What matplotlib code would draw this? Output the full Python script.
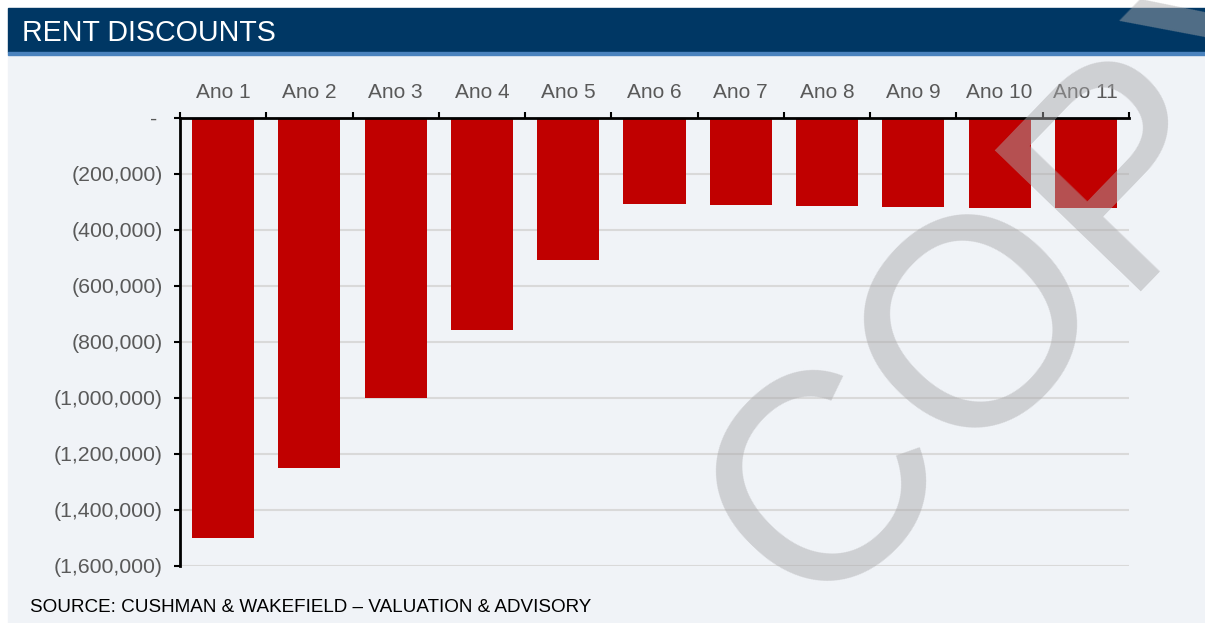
import numpy as np
import matplotlib.pyplot as plt
from matplotlib.patches import Rectangle
from matplotlib.ticker import FuncFormatter, FixedLocator

plt.rcParams['font.family'] = ['Liberation Sans', 'DejaVu Sans']

# rent discounts per lease year
years = ['Ano 1', 'Ano 2', 'Ano 3', 'Ano 4', 'Ano 5', 'Ano 6',
         'Ano 7', 'Ano 8', 'Ano 9', 'Ano 10', 'Ano 11']
discounts = [-1500000, -1250000, -1000000, -758000, -509000, -309000,
             -312000, -315000, -318000, -321000, -324000]
y_ticks = [0, -200000, -400000, -600000, -800000, -1000000,
           -1200000, -1400000, -1600000]

W, H = 1205, 623
fig = plt.figure(figsize=(W / 100, H / 100), dpi=100, facecolor='white')

def px(x, y):
    # pixel position (top-left origin) -> figure fraction
    return x / W, 1 - y / H

# page background, header bar and its thin lower stripe
fig.patches.append(Rectangle(px(8, 623), (W - 8) / W, (623 - 55) / H,
                             transform=fig.transFigure, color='#f0f3f7', zorder=-10))
fig.patches.append(Rectangle(px(8, 52), (W - 8) / W, 44 / H,
                             transform=fig.transFigure, color='#003764', zorder=-9))
fig.patches.append(Rectangle(px(8, 55), (W - 8) / W, 3 / H,
                             transform=fig.transFigure, color='#4a82bd', zorder=-9))
fig.text(*px(22, 33), 'RENT DISCOUNTS', color='white', fontsize=20.6,
         ha='left', va='center')

left, right, top, bottom = 180, 1129, 117.7, 565.7
ax = fig.add_axes([left / W, 1 - bottom / H, (right - left) / W, (bottom - top) / H])
ax.set_facecolor('none')

x = np.arange(len(years))
ax.bar(x, discounts, width=0.72, color='#c00000', zorder=3)

ax.set_xlim(-0.5, len(years) - 0.5)
ax.set_ylim(-1600000, 0)

ax.yaxis.set_major_locator(FixedLocator(y_ticks))
ax.yaxis.set_major_formatter(FuncFormatter(
    lambda v, pos: '- ' if v == 0 else f'({abs(v):,.0f})'))
ax.grid(axis='y', color='#d9d9d9', linewidth=1.5, zorder=0)
ax.set_axisbelow(True)

ax.xaxis.tick_top()
ax.set_xticks(x)
ax.set_xticklabels(years)
ax.set_xticks(np.arange(-0.5, len(years)), minor=True)
ax.tick_params(axis='x', which='major', length=0, pad=11.5, labelsize=15, labelcolor='#595959')
ax.tick_params(axis='x', which='minor', length=4.5, width=1.5, color='black', direction='out')
ax.tick_params(axis='y', length=4.5, width=1.5, color='black', pad=8,
               labelsize=15.3, labelcolor='#595959')

for side in ['right', 'bottom']:
    ax.spines[side].set_visible(False)
ax.spines['top'].set_linewidth(2)
ax.spines['left'].set_linewidth(2)
ax.spines['top'].set_zorder(4)

fig.text(*px(30, 607), 'SOURCE: CUSHMAN & WAKEFIELD \u2013 VALUATION & ADVISORY',
         color='black', fontsize=13.6, ha='left', va='center')

# diagonal watermark across the chart
fig.text(*px(1048, 262), 'COPY', fontsize=213, color='#aaaaac', alpha=0.48,
         rotation=46, rotation_mode='anchor', ha='center', va='center', zorder=20)

fig.savefig('out.png', dpi=100, facecolor=fig.get_facecolor())
